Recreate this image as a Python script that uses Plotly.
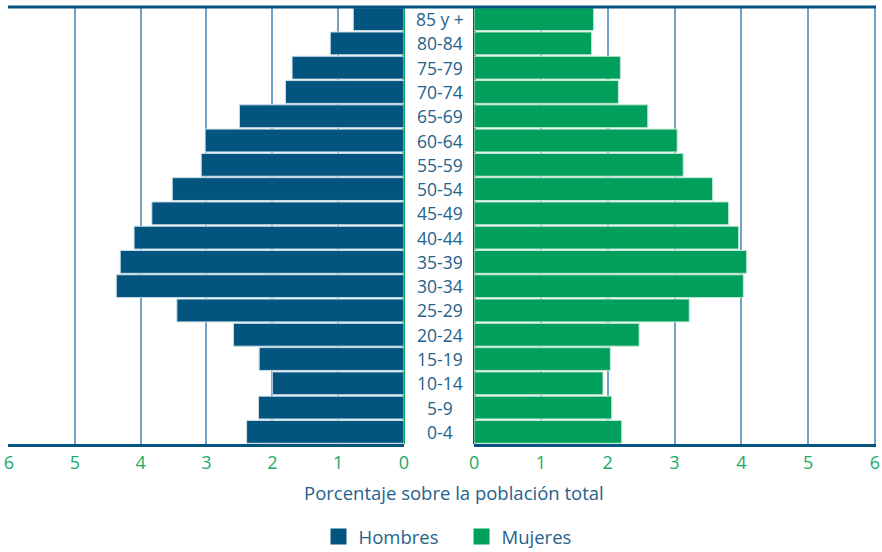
import plotly.graph_objects as go

age_groups = ["0-4", "5-9", "10-14", "15-19", "20-24", "25-29", "30-34", "35-39",
              "40-44", "45-49", "50-54", "55-59", "60-64", "65-69", "70-74",
              "75-79", "80-84", "85 y +"]
hombres = [2.39, 2.21, 2.00, 2.20, 2.59, 3.45, 4.37, 4.31, 4.10, 3.83, 3.52,
           3.08, 3.02, 2.50, 1.80, 1.70, 1.12, 0.77]
mujeres = [2.21, 2.06, 1.93, 2.04, 2.47, 3.22, 4.03, 4.08, 3.96, 3.81, 3.57,
           3.13, 3.04, 2.60, 2.16, 2.19, 1.76, 1.79]
x_ticks = [0, 1, 2, 3, 4, 5, 6]

DARK = "#03557f"
GREEN = "#00a05c"
GRID = "#72a2c6"
LABEL = "#25628c"
TICK = "#1aab68"
FONT = "Open Sans"

fig = go.Figure()
fig.add_trace(go.Bar(
    y=age_groups, x=hombres, orientation="h", name="Hombres",
    marker=dict(color=DARK, line=dict(color="#c9dde8", width=1)),
    xaxis="x", yaxis="y", showlegend=False))
fig.add_trace(go.Bar(
    y=age_groups, x=mujeres, orientation="h", name="Mujeres",
    marker=dict(color=GREEN, line=dict(color="#c6e8d6", width=1)),
    xaxis="x2", yaxis="y2", showlegend=False))
# legend entries
fig.add_trace(go.Scatter(x=[None], y=[None], mode="markers", name="Hombres",
                         marker=dict(symbol="square", size=20, color=DARK)))
fig.add_trace(go.Scatter(x=[None], y=[None], mode="markers", name="Mujeres",
                         marker=dict(symbol="square", size=20, color=GREEN)))

for i, lab in enumerate(age_groups):
    fig.add_annotation(x=0.4975, xref="paper", y=lab, yref="y", text=lab,
                       showarrow=False, xanchor="center", yanchor="middle",
                       font=dict(family=FONT, size=17.5, color=LABEL))

fig.add_annotation(x=0.514, xref="paper", y=-0.112, yref="paper",
                   text="Porcentaje sobre la población total", showarrow=False,
                   xanchor="center", yanchor="middle",
                   font=dict(family=FONT, size=18.5, color=LABEL))

fig.add_shape(type="line", xref="paper", yref="paper", x0=0, x1=1, y0=1, y1=1,
              line=dict(color=DARK, width=3))

axis_common = dict(
    tickvals=x_ticks, ticktext=[str(v) for v in x_ticks],
    showgrid=True, gridcolor=GRID, gridwidth=1.5,
    showline=True, linecolor=DARK, linewidth=3,
    ticks="", tickfont=dict(family=FONT, size=18, color=TICK),
    automargin=False, fixedrange=True)

fig.update_layout(
    width=882, height=552,
    margin=dict(l=8, r=6, t=7, b=108, autoexpand=False),
    plot_bgcolor="white", paper_bgcolor="white",
    bargap=0.06,
    font=dict(family=FONT, color=LABEL),
    xaxis=dict(domain=[0, 0.4562], range=[6.015, 0], anchor="y",
               zeroline=True, zerolinecolor=GREEN, zerolinewidth=2.5,
               **axis_common),
    xaxis2=dict(domain=[0.5369, 1], range=[0, 6.015], anchor="y2",
                zeroline=True, zerolinecolor=DARK, zerolinewidth=2.5,
                **axis_common),
    yaxis=dict(range=[-0.5, 17.5], showticklabels=False, showgrid=False,
               zeroline=False, anchor="x", categoryorder="array",
               categoryarray=age_groups, automargin=False),
    yaxis2=dict(range=[-0.5, 17.5], showticklabels=False, showgrid=False,
                zeroline=False, anchor="x2", matches="y", automargin=False,
                categoryorder="array", categoryarray=age_groups),
    legend=dict(orientation="h", x=0.5225, xanchor="center", y=-0.213,
                yanchor="middle", font=dict(family=FONT, size=18.5, color=LABEL),
                itemwidth=30, entrywidth=98, entrywidthmode="pixels",
                tracegroupgap=0, bgcolor="rgba(0,0,0,0)"),
    showlegend=True,
)

fig.write_html("out.html",
               config={"displayModeBar": False},
               post_script="document.body.style.margin='0';"
                           "document.body.style.overflow='hidden';")
